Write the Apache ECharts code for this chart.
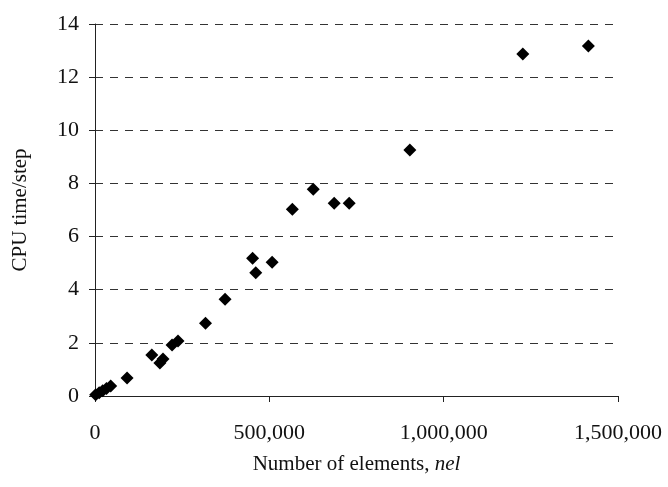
<!DOCTYPE html>
<html>
<head>
<meta charset="utf-8">
<script src="https://cdn.jsdelivr.net/npm/echarts@6/dist/echarts.min.js"></script>
<style>html,body{margin:0;padding:0;background:#fff;}#c{width:668px;height:487px;}</style>
</head>
<body>
<div id="c"></div>
<script>
// Number of elements (nel)
const nel = [2000, 12000, 22000, 33000, 45000, 92000, 163000, 186000, 195000, 221000, 238000,
  317000, 373000, 452000, 461000, 508000, 566000, 626000, 686000, 729000, 903000, 1227000, 1415000];
// CPU time per step
const cpuTime = [0.05, 0.12, 0.2, 0.28, 0.38, 0.68, 1.54, 1.24, 1.39, 1.92, 2.07,
  2.74, 3.64, 5.18, 4.64, 5.03, 7.03, 7.78, 7.25, 7.25, 9.26, 12.87, 13.17];

const xTitle = 'Number of elements, ';
const xTitleItalic = 'nel';
const yTitle = 'CPU time/step';

const points = nel.map((v, i) => [v, cpuTime[i]]);
const font = 'Liberation Serif';

const chart = echarts.init(document.getElementById('c'));
chart.setOption({
  animation: false,
  backgroundColor: '#fff',
  grid: { left: 95, right: 50, top: 24, bottom: 91, containLabel: false },
  xAxis: {
    type: 'value', min: 0, max: 1500000, interval: 500000,
    axisLine: { show: true, onZero: false, lineStyle: { color: '#222', width: 1 } },
    axisTick: { show: true, inside: false, length: 6, lineStyle: { color: '#222' } },
    splitLine: { show: false },
    axisLabel: {
      fontFamily: font, fontSize: 22, color: '#111', margin: 26,
      formatter: v => v.toLocaleString('en-US')
    },
    name: '{a|' + xTitle + '}{b|' + xTitleItalic + '}',
    nameLocation: 'middle', nameGap: 58,
    nameTextStyle: {
      rich: {
        a: { fontFamily: font, fontSize: 21, color: '#111' },
        b: { fontFamily: font, fontSize: 21, fontStyle: 'italic', color: '#111' }
      }
    }
  },
  yAxis: {
    type: 'value', min: 0, max: 14, interval: 2,
    axisLine: { show: true, lineStyle: { color: '#222', width: 1 } },
    axisTick: { show: true, inside: false, length: 6, lineStyle: { color: '#222' } },
    splitLine: { show: true, lineStyle: { color: '#333', width: 1, type: [8, 7] } },
    axisLabel: { fontFamily: font, fontSize: 22, color: '#111', margin: 16 },
    name: yTitle, nameLocation: 'middle', nameGap: 64,
    nameTextStyle: { fontFamily: font, fontSize: 21, color: '#111' }
  },
  series: [{
    type: 'scatter',
    data: points,
    symbol: 'diamond',
    symbolSize: 13,
    itemStyle: { color: '#000', opacity: 1 }
  }]
});
</script>
</body>
</html>
